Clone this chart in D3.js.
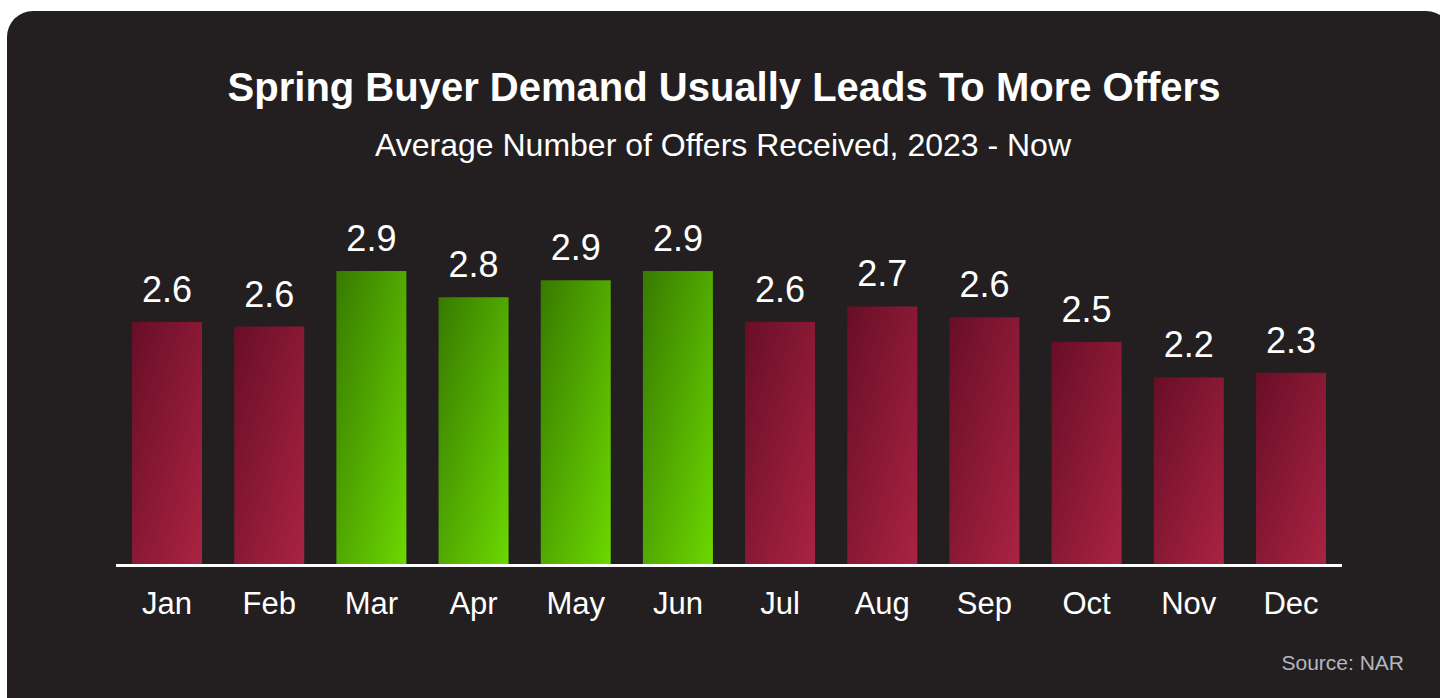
<!DOCTYPE html>
<html>
<head>
<meta charset="utf-8">
<script src="https://cdn.jsdelivr.net/npm/d3@7"></script>
<style>
  html, body { margin: 0; padding: 0; background: #ffffff; overflow: hidden; }
  svg { display: block; font-family: "Liberation Sans", Arial, sans-serif; }
</style>
</head>
<body>
<div id="chart"></div>
<script>
// chart data
const months = ['Jan', 'Feb', 'Mar', 'Apr', 'May', 'Jun', 'Jul', 'Aug', 'Sep', 'Oct', 'Nov', 'Dec'];
const offers = [2.57, 2.54, 2.90, 2.73, 2.84, 2.90, 2.57, 2.67, 2.60, 2.44, 2.21, 2.24];
const offerLabels = ['2.6', '2.6', '2.9', '2.8', '2.9', '2.9', '2.6', '2.7', '2.6', '2.5', '2.2', '2.3'];
const springMonths = ['Mar', 'Apr', 'May', 'Jun'];

const width = 1440;
const height = 698;

const svg = d3.select("#chart")
    .append("svg")
    .attr("width", width)
    .attr("height", height);

// gradients for the two bar colours
const defs = svg.append("defs");
function addGradient(id, from, to) {
    const grad = defs.append("linearGradient")
        .attr("id", id)
        .attr("x1", 0).attr("y1", 0)
        .attr("x2", 1).attr("y2", 1);
    grad.append("stop").attr("offset", "0%").attr("stop-color", from);
    grad.append("stop").attr("offset", "100%").attr("stop-color", to);
}
addGradient("redGrad", "#680e27", "#aa2342");
addGradient("greenGrad", "#377a00", "#6cd800");

// dark rounded panel
svg.append("rect")
    .attr("x", 7)
    .attr("y", 11)
    .attr("width", 1445)
    .attr("height", 720)
    .attr("rx", 26)
    .attr("fill", "#231f20");

// titles
svg.append("text")
    .attr("x", 724)
    .attr("y", 101)
    .attr("text-anchor", "middle")
    .attr("fill", "#ffffff")
    .attr("font-size", "40px")
    .attr("font-weight", "bold")
    .text("Spring Buyer Demand Usually Leads To More Offers");

svg.append("text")
    .attr("x", 723)
    .attr("y", 156)
    .attr("text-anchor", "middle")
    .attr("fill", "#ffffff")
    .attr("font-size", "32px")
    .text("Average Number of Offers Received, 2023 - Now");

// scales
const baseline = 564;
const x = d3.scaleBand()
    .domain(months)
    .range([116, 1342])
    .paddingInner(0.315)
    .paddingOuter(0.157);

const y = d3.scaleLinear()
    .domain([1, 3])
    .range([baseline, baseline - 308.4]);

const g = svg.append("g");

// bars
g.selectAll(".bar")
    .data(months)
    .enter().append("rect")
    .attr("class", "bar")
    .attr("x", d => x(d))
    .attr("y", (d, i) => y(offers[i]))
    .attr("width", x.bandwidth())
    .attr("height", (d, i) => baseline - y(offers[i]))
    .attr("fill", d => springMonths.includes(d) ? "url(#greenGrad)" : "url(#redGrad)");

// value labels above bars
g.selectAll(".value")
    .data(months)
    .enter().append("text")
    .attr("class", "value")
    .attr("x", d => x(d) + x.bandwidth() / 2)
    .attr("y", (d, i) => y(offers[i]) - 20)
    .attr("text-anchor", "middle")
    .attr("fill", "#ffffff")
    .attr("font-size", "36px")
    .text((d, i) => offerLabels[i]);

// x axis: white baseline and month names
const xAxis = svg.append("g")
    .attr("transform", `translate(0,${baseline + 1.5})`)
    .call(d3.axisBottom(x).tickSize(0).tickPadding(18));

xAxis.select(".domain")
    .attr("stroke", "#ffffff")
    .attr("stroke-width", 3)
    .attr("d", "M116,0H1342");

xAxis.selectAll(".tick text")
    .attr("fill", "#ffffff")
    .attr("font-size", "31px")
    .attr("font-family", "Liberation Sans, Arial, sans-serif")
    .attr("dy", "0")
    .attr("y", 48.5);

// source note
svg.append("text")
    .attr("x", 1404)
    .attr("y", 670)
    .attr("text-anchor", "end")
    .attr("fill", "#b3b7bf")
    .attr("font-size", "21px")
    .text("Source: NAR");
</script>
</body>
</html>
